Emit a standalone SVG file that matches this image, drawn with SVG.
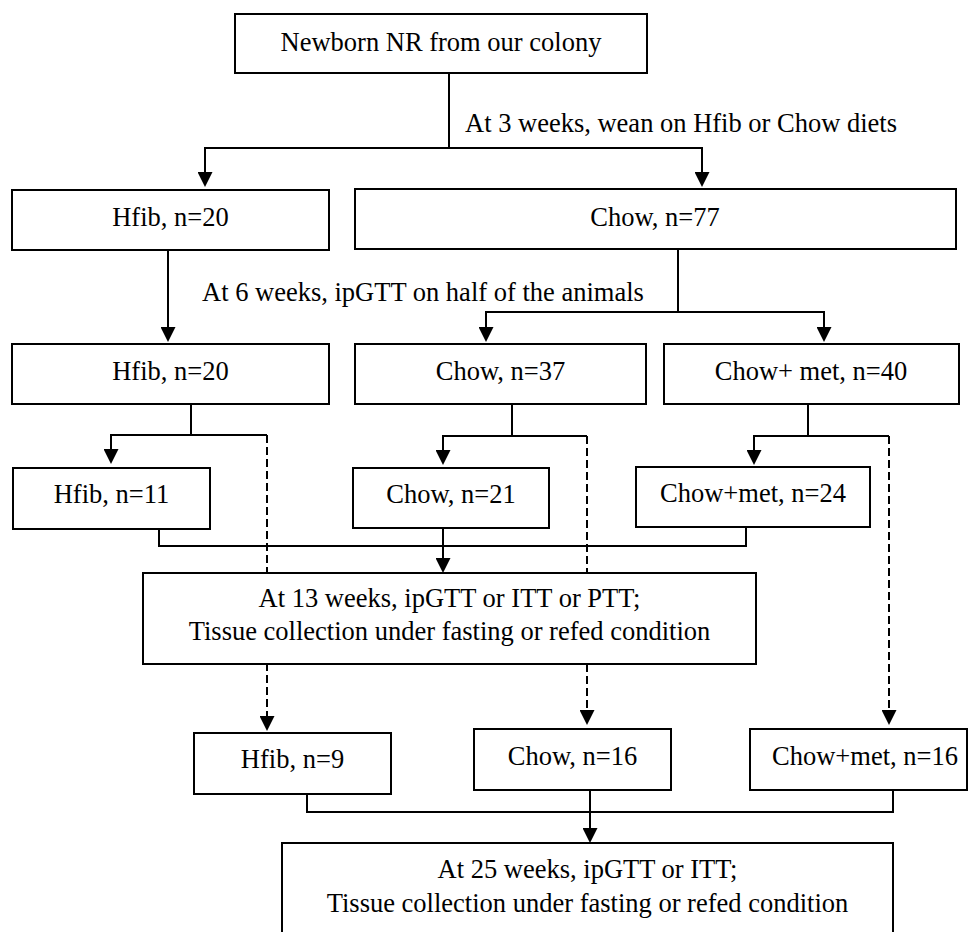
<svg xmlns="http://www.w3.org/2000/svg" width="970" height="932" viewBox="0 0 970 932">
<style>
  .box { fill: #ffffff; stroke: #000000; stroke-width: 2; }
  .t { font-family: "Liberation Serif", "Times New Roman", serif; font-size: 26.5px; fill: #000000; text-anchor: middle; }
  .lbl { font-family: "Liberation Serif", "Times New Roman", serif; font-size: 26.5px; fill: #000000; text-anchor: start; }
  .ln { fill: none; stroke: #000000; stroke-width: 2; }
  .dash { fill: none; stroke: #000000; stroke-width: 2; stroke-dasharray: 8 4; }
</style>
<defs>
  <marker id="arr" markerUnits="userSpaceOnUse" markerWidth="15" markerHeight="15" refX="5" refY="7.5" orient="auto">
    <path d="M0,0 L15,7.5 L0,15 z" fill="#000000"/>
  </marker>
</defs>
<rect width="970" height="932" fill="#ffffff"/>
<g id="connectors">
  <path class="ln" d="M449,73 V148"/>
  <path class="ln" d="M449,148 H205 V177" marker-end="url(#arr)"/>
  <path class="ln" d="M449,148 H702 V177" marker-end="url(#arr)"/>
  <path class="ln" d="M168,250 V332" marker-end="url(#arr)"/>
  <path class="ln" d="M678,249 V312"/>
  <path class="ln" d="M678,312 H486 V332" marker-end="url(#arr)"/>
  <path class="ln" d="M678,312 H824 V332" marker-end="url(#arr)"/>
  <path class="ln" d="M191,404 V435"/>
  <path class="ln" d="M191,435 H111 V454" marker-end="url(#arr)"/>
  <path class="ln" d="M191,435 H267"/>
  <path class="dash" d="M267,435 V721" marker-end="url(#arr)"/>
  <path class="ln" d="M512,404 V436"/>
  <path class="ln" d="M512,436 H443 V455" marker-end="url(#arr)"/>
  <path class="ln" d="M512,436 H587"/>
  <path class="dash" d="M587,436 V715" marker-end="url(#arr)"/>
  <path class="ln" d="M808,404 V436"/>
  <path class="ln" d="M808,436 H754 V455" marker-end="url(#arr)"/>
  <path class="ln" d="M808,436 H889"/>
  <path class="dash" d="M889,436 V715" marker-end="url(#arr)"/>
  <path class="ln" d="M159,529 V546 H746 V527"/>
  <path class="ln" d="M443,528 V563" marker-end="url(#arr)"/>
  <path class="ln" d="M307,794 V812 H893 V790"/>
  <path class="ln" d="M590,790 V833" marker-end="url(#arr)"/>
</g>
<g id="label-3wk"><text class="lbl" x="465" y="132">At 3 weeks, wean on Hfib or Chow diets</text></g>
<g id="label-6wk"><text class="lbl" x="202" y="301">At 6 weeks, ipGTT on half of the animals</text></g>
<g id="newborn"><rect class="box" x="235" y="14" width="412" height="59"/><text class="t" x="441" y="51">Newborn NR from our colony</text></g>
<g id="hfib20a"><rect class="box" x="12" y="190" width="317" height="60"/><text class="t" x="170.5" y="226">Hfib, n=20</text></g>
<g id="chow77"><rect class="box" x="355" y="189" width="601" height="60"/><text class="t" x="655" y="226">Chow, n=77</text></g>
<g id="hfib20b"><rect class="box" x="12" y="344" width="317" height="60"/><text class="t" x="170.5" y="380">Hfib, n=20</text></g>
<g id="chow37"><rect class="box" x="355" y="344" width="291" height="60"/><text class="t" x="500.5" y="380">Chow, n=37</text></g>
<g id="chowmet40"><rect class="box" x="664" y="344" width="295" height="60"/><text class="t" x="811" y="380">Chow+ met, n=40</text></g>
<g id="hfib11"><rect class="box" x="13" y="468" width="197" height="61"/><text class="t" x="111.5" y="503">Hfib, n=11</text></g>
<g id="chow21"><rect class="box" x="353" y="468" width="196" height="60"/><text class="t" x="451" y="503">Chow, n=21</text></g>
<g id="chowmet24"><rect class="box" x="636" y="467" width="234" height="60"/><text class="t" x="753" y="502">Chow+met, n=24</text></g>
<g id="wk13"><rect class="box" x="143" y="573" width="613" height="91"/><text class="t" x="449.5" y="607">At 13 weeks, ipGTT or ITT or PTT;</text><text class="t" x="449.5" y="640">Tissue collection under fasting or refed condition</text></g>
<g id="hfib9"><rect class="box" x="194" y="733" width="197" height="61"/><text class="t" x="292.5" y="768">Hfib, n=9</text></g>
<g id="chow16"><rect class="box" x="474" y="729" width="197" height="61"/><text class="t" x="572.5" y="765">Chow, n=16</text></g>
<g id="chowmet16"><rect class="box" x="750" y="729" width="217" height="61"/><text class="t" x="865" y="765">Chow+met, n=16</text></g>
<g id="wk25"><rect class="box" x="282" y="843" width="611" height="100"/><text class="t" x="587.5" y="878">At 25 weeks, ipGTT or ITT;</text><text class="t" x="587.5" y="912">Tissue collection under fasting or refed condition</text></g>
</svg>
